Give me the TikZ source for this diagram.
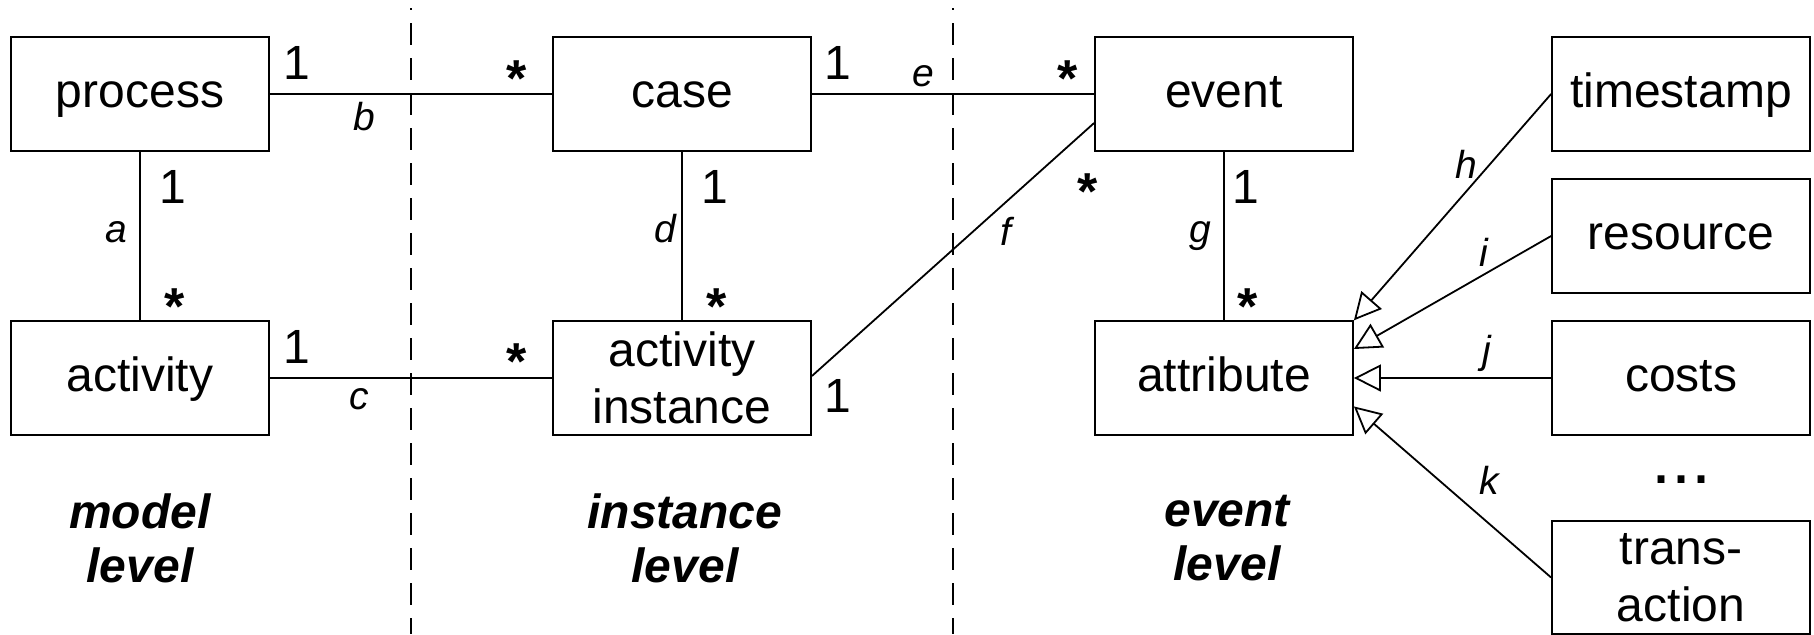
\documentclass[tikz,border=0pt]{standalone}
\usepackage{fontspec}
\setmainfont{Liberation Sans}
\usetikzlibrary{arrows.meta}
\newcommand{\mstarglyph}{\raisebox{-11pt}[\dimexpr\height-11pt\relax][0pt]{*}}
\tikzset{
  cls/.style={draw, line width=0.9pt, minimum width=129pt, minimum height=56.75pt, inner sep=0pt, align=center, font=\fontsize{24}{28.75}\selectfont},
  oneline/.style={text height=18pt, text depth=5pt},
  assoc/.style={line width=0.9pt},
  gen/.style={line width=0.9pt, -{Triangle[open, length=13.5pt, width=13.5pt]}},
  mult/.style={inner sep=0pt, font=\fontsize{24}{28}\selectfont},
  mstar/.style={inner sep=0pt, anchor=north, font=\bfseries\fontsize{26}{28}\selectfont},
  rname/.style={inner sep=0pt, font=\itshape\fontsize{19.5}{22}\selectfont},
  level/.style={inner sep=0pt, align=center, font=\bfseries\itshape\fontsize{24}{27}\selectfont},
  sep/.style={line width=0.9pt, dash pattern=on 11pt off 6.5pt, dash phase=10pt},
}
\begin{document}
\begin{tikzpicture}[x=0.5pt, y=-0.5pt]
\useasboundingbox (0,0) rectangle (1814,634);
% separators
\coordinate (s1t) at (411,8); \coordinate (s1b) at (411,634);
\coordinate (s2t) at (953,8); \coordinate (s2b) at (953,634);
\draw[sep] (s1t) -- (s1b);
\draw[sep] (s2t) -- (s2b);
% classes
\node[cls, oneline] (process) at (140,94) {process};
\node[cls, oneline] (activity) at (140,378) {activity};
\node[cls, oneline] (case) at (682,94) {case};
\node[cls] (actinst) at (682,378) {activity\\instance};
\node[cls, oneline] (event) at (1224,94) {event};
\node[cls, oneline] (attribute) at (1224,378) {attribute};
\node[cls, oneline] (timestamp) at (1681,94) {timestamp};
\node[cls, oneline] (resource) at (1681,236) {resource};
\node[cls, oneline] (costs) at (1681,378) {costs};
\node[cls] (transaction) at (1681,577.5) {trans-\\action};
% associations
\draw[assoc] (process.south) -- (activity.north);
\draw[assoc] (process.east) -- (case.west);
\draw[assoc] (activity.east) -- (actinst.west);
\draw[assoc] (case.south) -- (actinst.north);
\draw[assoc] (case.east) -- (event.west);
\draw[assoc] ([yshift=1pt]actinst.east) -- ([yshift=-14.5pt]event.west);
\draw[assoc] (event.south) -- (attribute.north);
% generalizations
\draw[gen] (timestamp.west) -- (attribute.north east);
\draw[gen] (resource.west) -- ([yshift=14.5pt]attribute.east);
\draw[gen] (costs.west) -- (attribute.east);
\draw[gen] (transaction.west) -- ([yshift=-14.2pt]attribute.east);
% multiplicities
\node[mult] (ma1) at (173,187) {1};
\node[mstar] (ma2) at (175,288.5) {\mstarglyph};
\node[mult] (mb1) at (297,62.7) {1};
\node[mstar] (mb2) at (516.5,60) {\mstarglyph};
\node[mult] (mc1) at (297,347) {1};
\node[mstar] (mc2) at (516.5,343.5) {\mstarglyph};
\node[mult] (md1) at (715,187) {1};
\node[mstar] (md2) at (717,288.5) {\mstarglyph};
\node[mult] (me1) at (838,62.7) {1};
\node[mstar] (me2) at (1068,60) {\mstarglyph};
\node[mult] (mf1) at (838,396) {1};
\node[mstar] (mf2) at (1088,173.5) {\mstarglyph};
\node[mult] (mg1) at (1246,187) {1};
\node[mstar] (mg2) at (1247.4,288.5) {\mstarglyph};
% association names
\node[rname] (la) at (116,232) {a};
\node[rname] (lb) at (364.5,117) {b};
\node[rname] (lc) at (359,399) {c};
\node[rname] (ld) at (665,229) {d};
\node[rname] (le) at (923.5,76) {e};
\node[rname] (lf) at (1006,231) {f};
\node[rname] (lg) at (1200,236.5) {g};
\node[rname] (lh) at (1466,164) {h};
\node[rname] (li) at (1484,252) {i};
\node[rname] (lj) at (1486.5,353) {j};
\node[rname] (lk) at (1489.6,480) {k};
% ellipsis
\node[inner sep=0pt, font=\fontsize{36}{40}\selectfont] (dots) at (1681,479.5) {...};
% level labels
\node[level] (lmodel) at (140,538) {model\\level};
\node[level] (linst) at (685,538) {instance\\level};
\node[level] (levent) at (1227,538) {event\\level};
\end{tikzpicture}
\end{document}
